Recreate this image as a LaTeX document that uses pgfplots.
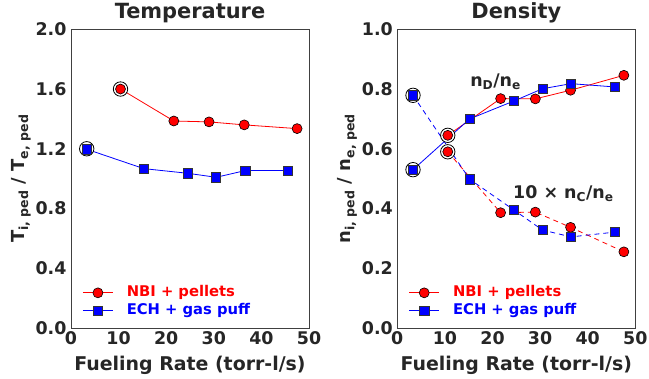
\documentclass[border=0pt]{standalone}
\usepackage{fontspec}
\setmainfont{DejaVu Sans}
\usepackage{pgfplots}
\pgfplotsset{compat=1.18}

\definecolor{txt}{gray}{0.15}
\definecolor{frame}{gray}{0.25}

\pgfplotsset{
  panel/.style={
    scale only axis,
    width=238bp, height=298.7bp,
    xmin=0, xmax=50,
    xtick={0,10,...,50},
    axis line style={frame, line width=0.9bp},
    major tick length=0pt,
    tick label style={font=\fontsize{17.5}{19}\selectfont\bfseries, text=txt},
    yticklabel style={/pgf/number format/fixed, /pgf/number format/fixed zerofill,
      /pgf/number format/precision=1, xshift=-1bp},
    /pgf/number format/assume math mode=true,
    title style={font=\fontsize{21}{23}\selectfont\bfseries, text=txt, yshift=-3bp},
    ylabel style={font=\fontsize{18}{20}\selectfont\bfseries, text=txt, yshift=-2bp},
    xlabel style={font=\fontsize{19}{21}\selectfont\bfseries, text=txt, yshift=-5bp},
    xlabel={Fueling Rate (torr-l/s)},
    legend style={draw=none, fill=none, at={(0.035,0.02)}, anchor=south west,
      font=\fontsize{14.8}{16}\selectfont\bfseries, row sep=0bp,
      nodes={inner sep=1.5bp, text height=11bp, text depth=4bp},
      /tikz/every odd column/.append style={column sep=12bp}},
    legend cell align=left,
    legend image code/.code={
      \draw[mark repeat=2, mark phase=2] plot coordinates {(0bp,0bp) (15bp,0bp) (30bp,0bp)};},
  },
  nbi/.style={color=red, line width=0.8bp, mark=*, mark size=5bp,
    mark options={solid, fill=red, draw=black, line width=0.6bp}},
  ech/.style={color=blue, line width=0.8bp, mark=square*, mark size=4.6bp,
    mark options={solid, fill=blue, draw=black!80, line width=0.6bp}},
  ring/.style={only marks, mark=*, mark size=7.2bp,
    mark options={fill=white, draw=black, line width=0.8bp}, forget plot},
}

\begin{document}
\begin{tikzpicture}
\useasboundingbox (0,0) rectangle (649bp,379bp);

% ---------------- Temperature ----------------
\begin{axis}[panel,
  at={(71bp,51bp)}, anchor=south west,
  ymin=0, ymax=2.0, ytick={0,0.4,...,2.0},
  title={Temperature},
  ylabel={T\textsubscript{i, ped} / T\textsubscript{e, ped}},
]
\addplot[ring] coordinates {(10.4,1.60) (3.3,1.20)};
\addplot[nbi] coordinates {
  (10.4,1.600) (21.6,1.386) (29.0,1.380) (36.4,1.360) (47.5,1.335)};
\addlegendentry{\textcolor{red}{NBI + pellets}}
\addplot[ech] coordinates {
  (3.3,1.197) (15.3,1.067) (24.5,1.036) (30.5,1.009) (36.6,1.054) (45.6,1.054)};
\addlegendentry{\textcolor{blue}{ECH + gas puff}}
\end{axis}

% ---------------- Density ----------------
\begin{axis}[panel,
  at={(397.3bp,51bp)}, anchor=south west,
  ymin=0, ymax=1.0, ytick={0,0.2,...,1.0},
  title={Density},
  ylabel={n\textsubscript{i, ped} / n\textsubscript{e, ped}},
]
\addplot[ring] coordinates {(10.6,0.645) (10.6,0.590) (3.3,0.530) (3.3,0.779)};
\addplot[nbi] coordinates {
  (10.6,0.645) (21.7,0.768) (29.0,0.767) (36.4,0.796) (47.6,0.846)};
\addlegendentry{\textcolor{red}{NBI + pellets}}
\addplot[ech] coordinates {
  (3.3,0.530) (15.2,0.700) (24.5,0.760) (30.5,0.801) (36.5,0.818) (45.7,0.807)};
\addlegendentry{\textcolor{blue}{ECH + gas puff}}
\addplot[nbi, dash pattern=on 5bp off 4bp, forget plot] coordinates {
  (10.6,0.590) (21.7,0.386) (29.0,0.388) (36.4,0.337) (47.6,0.255)};
\addplot[ech, dash pattern=on 5bp off 4bp, forget plot] coordinates {
  (3.3,0.779) (15.2,0.498) (24.5,0.395) (30.5,0.328) (36.5,0.305) (45.7,0.321)};
\node[anchor=west, text=txt, font=\fontsize{17.5}{19}\selectfont\bfseries, inner sep=0pt]
  at (axis cs:15.3,0.825) {n\textsubscript{D}/n\textsubscript{e}};
\node[anchor=west, text=txt, font=\fontsize{17.5}{19}\selectfont\bfseries, inner sep=0pt]
  at (axis cs:24.3,0.449) {10 × n\textsubscript{C}/n\textsubscript{e}};
\end{axis}
\end{tikzpicture}
\end{document}
